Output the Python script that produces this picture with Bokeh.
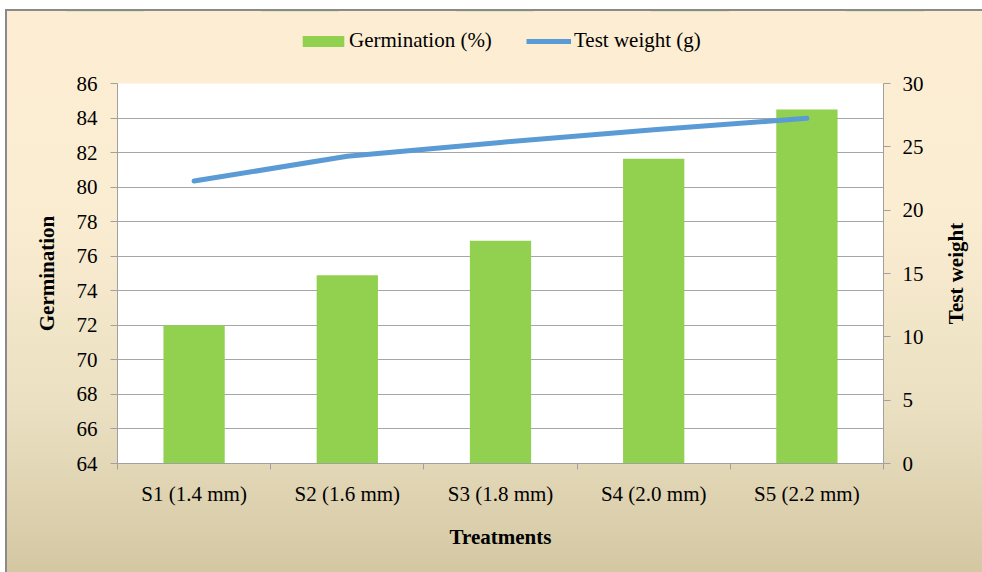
from bokeh.plotting import figure
from bokeh.layouts import column, row
from bokeh.models import Range1d, LinearAxis, FixedTicker, Legend, LegendItem
from bokeh.embed import file_html
from bokeh.resources import INLINE

categories = ["S1 (1.4 mm)", "S2 (1.6 mm)", "S3 (1.8 mm)", "S4 (2.0 mm)", "S5 (2.2 mm)"]
germination = [72.0, 74.9, 76.9, 81.65, 84.5]
test_weight = [22.3, 24.25, 25.35, 26.35, 27.25]
left_ticks = list(range(64, 87, 2))
right_ticks = list(range(0, 31, 5))

FONT = "Liberation Serif"
FS = "21px"
AXIS_COL = "#A0A0A0"
BAR_COL = "#92D050"
LINE_COL = "#5B9BD5"

xs = list(range(1, len(categories) + 1))

# ---- legend strip (its own small figure so the legend is not clipped) ----
# The series are drawn here outside the visible y range; only their legend swatches show.
lf = figure(width=975, height=60, output_backend="svg", toolbar_location=None,
            x_range=Range1d(0.5, len(categories) + 0.5), y_range=Range1d(0, 1),
            min_border=0, min_border_left=0, min_border_right=0,
            min_border_top=0, min_border_bottom=0)
lf.axis.visible = False
lf.grid.visible = False
lf.border_fill_color = None
lf.background_fill_color = None
lf.outline_line_color = None
lg_bar = lf.vbar(x=xs, top=germination, bottom=left_ticks[0], width=0.4,
                 fill_color=BAR_COL, line_color=None)
lg_line = lf.line(xs, test_weight, line_width=5, line_color=LINE_COL)


def make_legend(fig, item, loc, gw, gh, standoff):
    lg = Legend(items=[item], location=loc, orientation="horizontal",
                glyph_width=gw, glyph_height=gh, label_height=gh,
                label_standoff=standoff, padding=0, margin=0, spacing=0,
                background_fill_alpha=0, border_line_alpha=0,
                label_text_font=FONT, label_text_font_size=FS, label_text_color="black")
    fig.add_layout(lg, "center")


make_legend(lf, LegendItem(label="Germination (%)", renderers=[lg_bar]), (290, 18), 52, 14, 0)
make_legend(lf, LegendItem(label="Test weight (g)", renderers=[lg_line]), (519, 18), 45, 14, 3)

# ---- main chart ----
p = figure(width=920, height=501, output_backend="svg", toolbar_location=None,
           x_range=Range1d(0.5, len(categories) + 0.5),
           y_range=Range1d(left_ticks[0], left_ticks[-1]),
           min_border_left=110, min_border_right=44, min_border_top=12, min_border_bottom=109)
p.extra_y_ranges = {"tw": Range1d(right_ticks[0], right_ticks[-1])}

p.border_fill_color = None
p.background_fill_color = "white"
p.outline_line_color = None

bars = p.vbar(x=xs, top=germination, bottom=left_ticks[0], width=0.4,
              fill_color=BAR_COL, line_color=None)
line = p.line(xs, test_weight, y_range_name="tw", line_width=5, line_color=LINE_COL,
              line_cap="round", line_join="round")

# x axis
xa = p.xaxis[0]
xa.ticker = FixedTicker(ticks=xs, minor_ticks=[i + 0.5 for i in range(0, len(categories) + 1)])
xa.major_label_overrides = {x: c for x, c in zip(xs, categories)}
xa.major_tick_out = 0
xa.major_tick_in = 0
xa.minor_tick_out = 6
xa.minor_tick_in = 0
xa.axis_line_color = AXIS_COL
xa.major_label_standoff = 12
xa.axis_label = "Treatments"
xa.axis_label_standoff = 16

# left axis
ya = p.yaxis[0]
ya.ticker = FixedTicker(ticks=left_ticks, minor_ticks=[])
ya.major_tick_out = 7
ya.major_tick_in = 0
ya.major_tick_line_color = AXIS_COL
ya.axis_line_color = AXIS_COL
ya.major_label_standoff = 13
ya.axis_label = "Germination"
ya.axis_label_standoff = 15

# right axis (ticks and numbers only)
ra = LinearAxis(y_range_name="tw", ticker=FixedTicker(ticks=right_ticks, minor_ticks=[]))
ra.major_tick_out = 7
ra.major_tick_in = 0
ra.major_tick_line_color = AXIS_COL
ra.axis_line_color = AXIS_COL
ra.major_label_standoff = 12
p.add_layout(ra, "right")

for ax in (xa, ya, ra):
    ax.major_label_text_font = FONT
    ax.major_label_text_font_size = FS
    ax.major_label_text_color = "black"
    ax.axis_label_text_font = FONT
    ax.axis_label_text_font_size = FS
    ax.axis_label_text_font_style = "bold"
    ax.axis_label_text_color = "black"
    ax.minor_tick_line_color = AXIS_COL if ax is xa else None

p.xgrid.visible = False
p.ygrid.ticker = FixedTicker(ticks=left_ticks, minor_ticks=[])
p.ygrid.grid_line_color = "#A6A6A6"
p.ygrid.grid_line_width = 1

# ---- right-hand title strip: a bare left axis whose label reads bottom-to-top ----
rf = figure(width=55, height=501, output_backend="svg", toolbar_location=None,
            x_range=Range1d(0, 1), y_range=Range1d(right_ticks[0], right_ticks[-1]),
            min_border_left=40, min_border_right=0, min_border_top=12, min_border_bottom=109)
rf.border_fill_color = None
rf.background_fill_color = None
rf.outline_line_color = None
rf.grid.visible = False
rf.xaxis.visible = False
rl = rf.yaxis[0]
rl.ticker = FixedTicker(ticks=[], minor_ticks=[])
rl.axis_line_color = None
rl.major_tick_line_color = None
rl.minor_tick_line_color = None
rl.major_tick_out = 0
rl.major_label_standoff = 0
rl.axis_label = "Test weight"
rl.axis_label_standoff = 0
rl.axis_label_text_font = FONT
rl.axis_label_text_font_size = FS
rl.axis_label_text_font_style = "bold"
rl.axis_label_text_color = "black"

layout = column(lf, row(p, rf, spacing=0), spacing=0, margin=(9, 0, 0, 5))
layout.styles = {
    "background": "linear-gradient(180deg, #FDEED3 0%, #FBEDD2 35%, #EBE0C2 70%, #D4C8A3 100%)",
    "border-left": "2px solid #8A8A8A",
    "border-top": "2px solid #8A8A8A",
}

open("out.html", "w").write(file_html(layout, INLINE))
